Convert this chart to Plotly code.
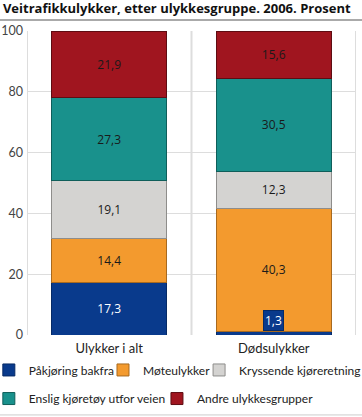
import plotly.graph_objects as go

categories = ["Ulykker i alt", "Dødsulykker"]
series_names = ["Påkjøring bakfra", "Møteulykker", "Kryssende kjøreretning",
                "Enslig kjøretøy utfor veien", "Andre ulykkesgrupper"]
pakjoring = [17.3, 1.3]
moteulykker = [14.4, 40.3]
kryssende = [19.1, 12.3]
enslig = [27.3, 30.5]
andre = [21.9, 15.6]
y_ticks = [0, 20, 40, 60, 80, 100]

values = [pakjoring, moteulykker, kryssende, enslig, andre]
colors = ["#093a8c", "#f39a2e", "#d4d3d1", "#19918c", "#a0151f"]
outlines = ["#062a66", "#a86a1f", "#8e8d8b", "#0f5e5a", "#5e0c12"]
text_colors = ["white", "#1a1a1a", "#1a1a1a", "#1a1a1a", "#1a1a1a"]
legend_ids = ["legend", "legend2", "legend3", "legend4", "legend5"]

def fmt(v):
    return f"{v:.1f}".replace(".", ",")

fig = go.Figure()
for name, vals, c, oc, tc, lg in zip(series_names, values, colors, outlines, text_colors, legend_ids):
    texts = [fmt(v) if v >= 5 else "" for v in vals]
    fig.add_trace(go.Bar(
        x=categories, y=vals, name=name, width=0.7,
        marker=dict(color=c, line=dict(color=oc, width=1)),
        text=texts, textposition="inside", insidetextanchor="middle",
        textfont=dict(color=tc, size=12, family="Open Sans"),
        hoverinfo="skip", legend=lg, showlegend=True,
    ))

# small value label shown in a box above the thin segment
for i, v in enumerate(pakjoring):
    if v < 5:
        fig.add_annotation(x=categories[i], y=v, yanchor="bottom", text=fmt(v),
                           showarrow=False, bgcolor=colors[0],
                           bordercolor=outlines[0], borderwidth=1, borderpad=1,
                           font=dict(color="white", size=12, family="Open Sans"))

# vertical separators between categories
for xv in [-0.5, 0.5, 1.5]:
    fig.add_shape(type="line", x0=xv, x1=xv, y0=0, y1=100, xref="x", yref="y",
                  line=dict(color="#dddddd", width=2), layer="below")
# title underline and bottom line
fig.add_shape(type="line", xref="paper", yref="paper", x0=-0.09, x1=1.02,
              y0=1.036, y1=1.036, line=dict(color="#aaaaaa", width=2))
fig.add_shape(type="line", xref="paper", yref="paper", x0=-0.09, x1=1.02,
              y0=-0.263, y1=-0.263, line=dict(color="#cccccc", width=1))

legend_style = dict(orientation="h", xanchor="left", yanchor="middle",
                    font=dict(size=12, color="#222222", family="Lato"),
                    bgcolor="rgba(0,0,0,0)", itemwidth=30, borderwidth=0)
legend_pos = {"legend": (-0.116, -0.115), "legend2": (0.231, -0.115),
              "legend3": (0.523, -0.115), "legend4": (-0.116, -0.209),
              "legend5": (0.395, -0.209)}

fig.update_layout(
    barmode="stack",
    showlegend=True,
    width=362, height=417,
    margin=dict(l=27, r=6, t=31, b=82, autoexpand=False),
    paper_bgcolor="white", plot_bgcolor="white",
    font=dict(family="Open Sans", size=12, color="#222222"),
    title=dict(text="<b>Veitrafikkulykker, etter ulykkesgruppe. 2006. Prosent</b>",
               x=0.008, xanchor="left", y=0.99, yanchor="top",
               font=dict(size=13, color="#111111")),
    xaxis=dict(range=[-0.5, 1.5], showgrid=False, showline=False, ticks="",
               tickfont=dict(size=13, family="Lato"), ticklabelstandoff=4),
    yaxis=dict(range=[0, 100], tickvals=y_ticks, showgrid=True,
               gridcolor="#dddddd", gridwidth=1, zeroline=False, showline=False,
               tickfont=dict(size=12.5, color="#444444", family="Lato"),
               ticklabelstandoff=3),
    bargap=0.3,
)
for lg, (lx, ly) in legend_pos.items():
    fig.update_layout({lg: dict(x=lx, y=ly, **legend_style)})

fig.write_html("out.html", config={"displayModeBar": False},
               post_script="document.body.style.margin='0';")
